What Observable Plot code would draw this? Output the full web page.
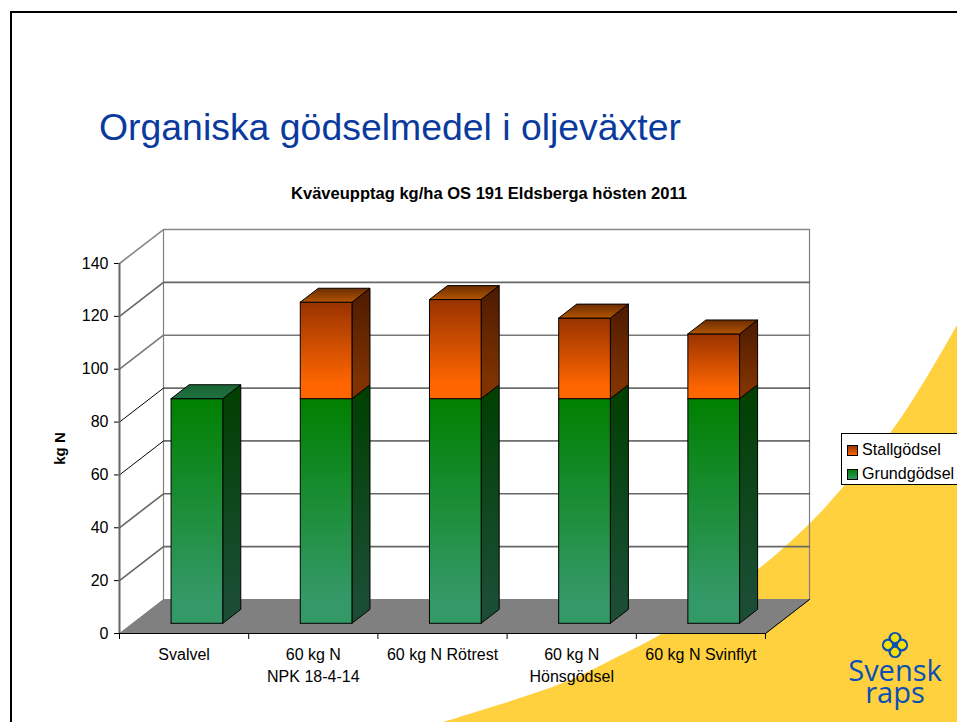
<!DOCTYPE html>
<html lang="sv">
<head>
<meta charset="utf-8">
<script src="https://cdn.jsdelivr.net/npm/d3@7"></script>
<script src="https://cdn.jsdelivr.net/npm/@observablehq/plot@0.6"></script>
<style>
  html,body{margin:0;padding:0;background:#fff;}
  #slide{position:relative;width:957px;height:722px;overflow:hidden;background:#fff;font-family:"Liberation Sans",Arial,sans-serif;}
  #frame{position:absolute;left:9.5px;top:11px;width:1000px;height:800px;border:2.5px solid #000;box-sizing:border-box;}
  #swoosh{position:absolute;left:0;top:0;}
  #title{position:absolute;left:99px;top:104px;font-size:37.4px;line-height:46px;color:#0b3a9e;white-space:nowrap;}
  #chartTitle{position:absolute;left:189px;width:600px;top:185px;text-align:center;font-size:16.55px;line-height:17px;font-weight:bold;color:#000;white-space:nowrap;}
  #chart{position:absolute;left:0;top:0;}
  #chart svg{background:transparent;display:block;}
  #legend{position:absolute;left:841px;top:433px;width:130px;height:52px;background:#fff;border:1px solid #000;box-sizing:border-box;font-size:16.1px;color:#000;}
  .item{position:absolute;left:5px;height:17px;line-height:17px;white-space:nowrap;}
  .sw{display:inline-block;box-sizing:border-box;width:11px;height:11px;border:1px solid #000;margin-right:4px;vertical-align:-1px;}
  #logo{position:absolute;left:840px;top:625px;width:110px;height:90px;color:#0a4fb5;font-family:"Open Sans",sans-serif;text-align:center;}
  #logoText{position:absolute;left:0;top:34px;width:110px;font-size:29px;line-height:22px;white-space:nowrap;}
</style>
</head>
<body>
<div id="slide">
  <svg id="swoosh" width="957" height="722"></svg>
  <div id="frame"></div>
  <div id="title">Organiska gödselmedel i oljeväxter</div>
  <div id="chartTitle">Kväveupptag kg/ha OS 191 Eldsberga hösten 2011</div>
  <div id="chart"></div>
  <div id="legend">
    <div class="item" style="top:6.5px"><span class="sw" style="background:linear-gradient(#993300,#ff6600)"></span>Stallgödsel</div>
    <div class="item" style="top:31px"><span class="sw" style="background:linear-gradient(#008000,#339966)"></span>Grundgödsel</div>
  </div>
  <div id="logo">
    <svg width="110" height="40" style="position:absolute;left:0;top:0">
      <g transform="translate(55,20) rotate(45)" fill="#0a4fb5">
        <circle cx="-4.6" cy="-4.6" r="6.6"/><circle cx="4.6" cy="-4.6" r="6.6"/>
        <circle cx="4.6" cy="4.6" r="6.6"/><circle cx="-4.6" cy="4.6" r="6.6"/>
        <g fill="#f7e007">
          <circle cx="-5" cy="-5" r="4"/><circle cx="5" cy="-5" r="4"/>
          <circle cx="5" cy="5" r="4"/><circle cx="-5" cy="5" r="4"/>
        </g>
      </g>
    </svg>
    <div id="logoText">Svensk<br>raps</div>
  </div>
</div>
<script>
// --- data ---
const categories = ["Svalvel", "60 kg N\nNPK 18-4-14", "60 kg N Rötrest", "60 kg N\nHönsgödsel", "60 kg N Svinflyt"];
const grundgodsel = [85, 85, 85, 85, 85];
const stallgodsel = [0, 36.5, 37.5, 30.5, 24.5];
const yTicks = [0, 20, 40, 60, 80, 100, 120, 140];
const gridStrokes = ["#808080", "#666", "#666", "#000", "#000", "#777", "#666", "#888"];
const gridWidths = [1, 1.6, 1.6, 1, 1, 1.6, 1.6, 1.6];

// --- oblique depth, in data units of the two scales ---
const depthX = 0.3406, depthY = 12.86;
const barInset = 0.297, barWidth = 0.4, zFront = 0.3, zBack = 0.71;
const P = (x, y, z = 0) => ({x: x + z * depthX, y: y + z * depthY});
const poly = (pts, options) => Plot.line([...pts, pts[0]], {x: "x", y: "y", strokeWidth: 1, strokeLinejoin: "miter", ...options});

function gradient(id, stops) {
  return `<linearGradient id="${id}" x1="0" y1="0" x2="0" y2="1">` +
    stops.map(([o, c]) => `<stop offset="${o}" stop-color="${c}"/>`).join("") + `</linearGradient>`;
}
const defs = () => {
  const d = document.createElementNS("http://www.w3.org/2000/svg", "defs");
  d.innerHTML = [
    gradient("gFront", [[0, "#008000"], [0.88, "#339966"], [1, "#339966"]]),
    gradient("gSide", [[0, "#003f00"], [0.88, "#1a4d33"], [1, "#1a4d33"]]),
    gradient("gTop", [[0, "#1a6633"], [1, "#1f7040"]]),
    gradient("oFront", [[0, "#993300"], [0.85, "#ff6600"], [1, "#ff6600"]]),
    gradient("oSide", [[0, "#4d1a00"], [0.85, "#803300"], [1, "#803300"]]),
    gradient("oTop", [[0, "#6b2c00"], [1, "#b35500"]])
  ].join("");
  return d;
};

function box(i, v0, v1, front, side, top) {
  const l = i + barInset, r = l + barWidth;
  const marks = [
    poly([P(r, v0, zFront), P(r, v0, zBack), P(r, v1, zBack), P(r, v1, zFront)], {fill: `url(#${side})`, stroke: "#000"}),
    poly([P(l, v0, zFront), P(r, v0, zFront), P(r, v1, zFront), P(l, v1, zFront)], {fill: `url(#${front})`, stroke: "#000"})
  ];
  if (top) marks.push(poly([P(l, v1, zFront), P(r, v1, zFront), P(r, v1, zBack), P(l, v1, zBack)], {fill: `url(#${top})`, stroke: "#000"}));
  return marks;
}

const W = categories.length;
const marks = [
  defs,
  // floor
  poly([P(0, 0), P(W, 0), P(W, 0, 1), P(0, 0, 1)], {fill: "#808080", stroke: "#808080"}),
  // back wall verticals
  Plot.line([P(0, 0, 1), P(0, 140, 1)], {x: "x", y: "y", stroke: "#808080", strokeWidth: 1.2}),
  Plot.line([P(W, 0, 1), P(W, 140, 1)], {x: "x", y: "y", stroke: "#808080", strokeWidth: 1.2}),
  // gridlines on walls
  ...yTicks.slice(1).map((t, k) => Plot.line([P(0, t), P(0, t, 1), P(W, t, 1)], {
    x: "x", y: "y", stroke: gridStrokes[k + 1], strokeWidth: gridWidths[k + 1], strokeLinejoin: "miter"
  })),
  // right edge of floor
  Plot.line([P(W, 0), P(W, 0, 1)], {x: "x", y: "y", stroke: "#000", strokeWidth: 1}),
  // bars
  ...categories.flatMap((c, i) => [
    ...box(i, 0, grundgodsel[i], "gFront", "gSide", stallgodsel[i] ? null : "gTop"),
    ...(stallgodsel[i] ? box(i, grundgodsel[i], grundgodsel[i] + stallgodsel[i], "oFront", "oSide", "oTop") : [])
  ]),
  // axes
  Plot.axisY({ticks: yTicks, tickSize: 5, tickPadding: 6, fontSize: 16, label: null, color: "#000", stroke: "#000"}),
  Plot.ruleX([0], {y1: 0, y2: 140, stroke: "#666", strokeWidth: 2}),
  Plot.axisX({ticks: d3.range(W + 1), tickSize: 6, tickFormat: () => "", label: null, stroke: "#000"}),
  Plot.ruleY([0], {x1: 0, x2: W, stroke: "#000", strokeWidth: 1.2}),
  Plot.text(categories, {
    x: (d, i) => i + 0.5, y: () => 0, text: d => d, lineAnchor: "top", dy: 11,
    fontSize: 16, lineHeight: 1.375, fill: "#000"
  }),
  // y axis title
  Plot.text(["kg N"], {
    x: () => 0, y: () => 70, text: d => d, dx: -59, rotate: -90,
    fontSize: 15, fontWeight: "bold", fill: "#000"
  })
];

const chart = Plot.plot({
  width: 957, height: 722,
  marginLeft: 119, marginRight: 192, marginTop: 263, marginBottom: 89,
  style: {background: "transparent", fontFamily: "'Liberation Sans', Arial, sans-serif", overflow: "visible"},
  x: {type: "linear", domain: [0, W], axis: null},
  y: {type: "linear", domain: [0, 140], axis: null},
  marks
});
document.getElementById("chart").appendChild(chart);

// slide decoration behind the chart
const edge = [[443,722],[523,697],[570,680],[617,657],[663,633],[757,570],[813,520],[843,487],[890,433],[925,380],[957,325]];
const path = d3.line().curve(d3.curveCatmullRom)(edge) + "L957,722Z";
d3.select("#swoosh").append("path").attr("d", path).attr("fill", "#ffd13e");
</script>
</body>
</html>
